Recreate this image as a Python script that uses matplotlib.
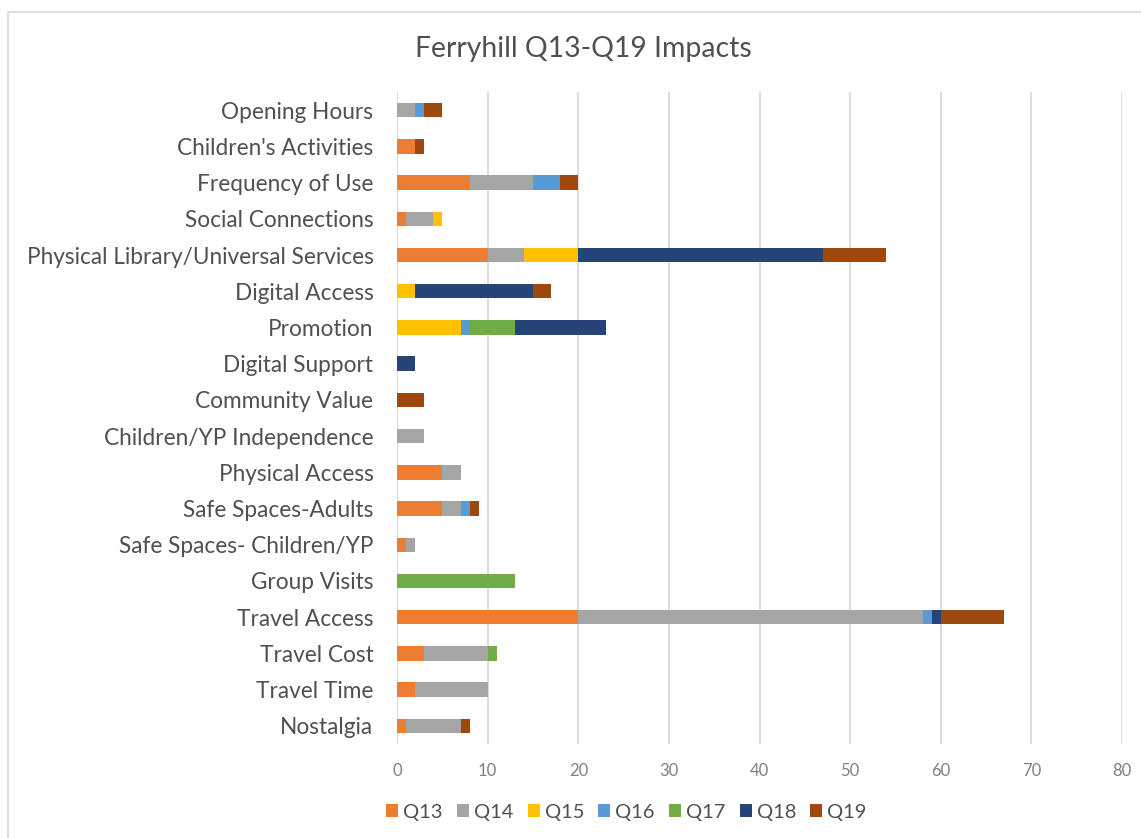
import numpy as np
import matplotlib.pyplot as plt
from matplotlib.patches import Rectangle

plt.rcParams['font.family'] = ['Lato', 'DejaVu Sans']

# categories listed from the bottom of the chart upwards
categories = ['Nostalgia', 'Travel Time', 'Travel Cost', 'Travel Access', 'Group Visits',
              'Safe Spaces- Children/YP', 'Safe Spaces-Adults', 'Physical Access',
              'Children/YP Independence', 'Community Value', 'Digital Support', 'Promotion',
              'Digital Access', 'Physical Library/Universal Services', 'Social Connections',
              'Frequency of Use', "Children's Activities", 'Opening Hours']

q13 = [1, 2, 3, 20, 0, 1, 5, 5, 0, 0, 0, 0, 0, 10, 1, 8, 2, 0]
q14 = [6, 8, 7, 38, 0, 1, 2, 2, 3, 0, 0, 0, 0, 4, 3, 7, 0, 2]
q15 = [0, 0, 0, 0, 0, 0, 0, 0, 0, 0, 0, 7, 2, 6, 1, 0, 0, 0]
q16 = [0, 0, 0, 1, 0, 0, 1, 0, 0, 0, 0, 1, 0, 0, 0, 3, 0, 1]
q17 = [0, 0, 1, 0, 13, 0, 0, 0, 0, 0, 0, 5, 0, 0, 0, 0, 0, 0]
q18 = [0, 0, 0, 1, 0, 0, 0, 0, 0, 0, 2, 10, 13, 27, 0, 0, 0, 0]
q19 = [1, 0, 0, 7, 0, 0, 1, 0, 0, 3, 0, 0, 2, 7, 0, 2, 1, 2]

series = {'Q13': q13, 'Q14': q14, 'Q15': q15, 'Q16': q16, 'Q17': q17, 'Q18': q18, 'Q19': q19}
colors = ['#ED7D31', '#A5A5A5', '#FFC000', '#5B9BD5', '#70AD47', '#264478', '#9E480E']

fig = plt.figure(figsize=(11.41, 8.38), dpi=100)
ax = fig.add_axes([0.348, 0.1122, 0.6354, 0.778])

y = np.arange(len(categories))
left = np.zeros(len(categories))
for (name, vals), c in zip(series.items(), colors):
    vals = np.array(vals, dtype=float)
    ax.barh(y, vals, left=left, height=0.4, color=c, label=name, zorder=3)
    left += vals

ax.set_xlim(0, 80)
ax.set_ylim(-0.5, len(categories) - 0.5)
ax.set_xticks(np.arange(0, 81, 10))
ax.set_yticks(y)
ax.set_yticklabels(categories, fontsize=16.3, color='#505050')
ax.tick_params(axis='x', labelsize=12, colors='#808080', length=0, pad=14)
ax.tick_params(axis='y', length=0, pad=17)
ax.grid(axis='x', color='#D9D9D9', linewidth=1.3, zorder=0)
for s in ax.spines.values():
    s.set_visible(False)

fig.text(0.511, 0.941, 'Ferryhill Q13-Q19 Impacts', ha='center', va='center',
         fontsize=20.4, color='#505050')

ax.legend(loc='center', bbox_to_anchor=(0.549, 0.031), bbox_transform=fig.transFigure,
          ncol=7, frameon=False, fontsize=14.5, handlelength=0.6, handleheight=0.6,
          handletextpad=0.25, columnspacing=0.7, labelcolor='#505050')

# light frame around the chart area
fig.patches.append(Rectangle((0.007, -0.01), 1.0, 0.996, transform=fig.transFigure,
                             fill=False, edgecolor='#D9D9D9', linewidth=1.2))

fig.savefig('out.png', dpi=100)
